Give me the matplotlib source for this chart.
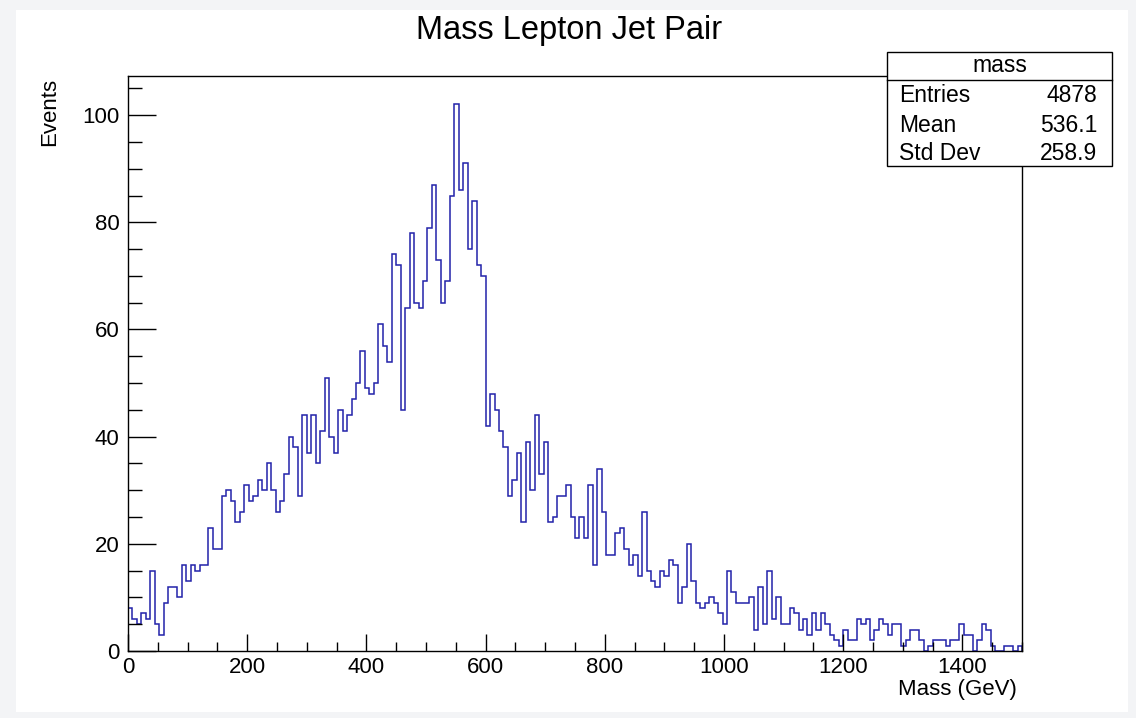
import numpy as np
import matplotlib
matplotlib.use('Agg')
import matplotlib.pyplot as plt
from matplotlib.patches import Rectangle
from matplotlib.ticker import MultipleLocator

plt.rcParams['font.family'] = ['Liberation Sans', 'DejaVu Sans']

# histogram: 200 bins, 0..1500 GeV
X_MIN, X_MAX, N_BINS = 0, 1500, 200
counts = [
    8, 6, 5, 7, 6, 15, 5, 3, 9, 12,
    12, 10, 16, 13, 16, 15, 16, 16, 23, 19,
    19, 29, 30, 28, 24, 26, 31, 28, 29, 32,
    30, 35, 30, 26, 28, 33, 40, 38, 29, 44,
    37, 44, 35, 41, 51, 40, 37, 45, 41, 44,
    47, 50, 56, 49, 48, 50, 61, 57, 54, 74,
    72, 45, 64, 78, 65, 64, 69, 79, 87, 73,
    65, 69, 85, 102, 86, 91, 75, 84, 72, 70,
    42, 48, 45, 41, 38, 29, 32, 37, 24, 39,
    30, 44, 33, 39, 24, 25, 29, 29, 31, 25,
    21, 25, 21, 31, 16, 34, 26, 18, 18, 22,
    23, 19, 16, 18, 14, 26, 15, 13, 12, 15,
    14, 17, 16, 9, 12, 20, 13, 9, 8, 9,
    10, 9, 7, 5, 15, 11, 9, 9, 9, 10,
    4, 12, 5, 15, 6, 10, 5, 5, 8, 7,
    4, 6, 3, 7, 4, 7, 5, 3, 2, 1,
    4, 2, 2, 6, 5, 6, 2, 4, 6, 5,
    3, 5, 5, 1, 2, 4, 4, 2, 0, 1,
    2, 2, 2, 1, 2, 2, 5, 3, 3, 0,
    2, 5, 4, 1, 0, 0, 1, 1, 0, 1,
]
stat_names = ['Entries', 'Mean', 'Std Dev']
stat_values = ['4878', '536.1', '258.9']
hist_name = 'mass'
title = 'Mass Lepton Jet Pair'
xlabel = 'Mass (GeV)'
ylabel = 'Events'

W, H = 1136, 718
LINE = '#2222aa'

fig = plt.figure(figsize=(W / 100, H / 100), dpi=100)
fig.patch.set_facecolor('#f3f4f6')
fig.add_artist(Rectangle((16 / W, 1 - 712 / H), (1128 - 16) / W, (712 - 10) / H,
                         transform=fig.transFigure, facecolor='white',
                         edgecolor='none', zorder=0))

ax = fig.add_axes([128 / W, 1 - 651 / H, (1022 - 128) / W, (651 - 76) / H])
ax.set_facecolor('white')
edges = np.linspace(X_MIN, X_MAX, N_BINS + 1)
ax.stairs(counts, edges, baseline=0, fill=False, color=LINE, lw=1.1)

ax.set_xlim(X_MIN, X_MAX)
ax.set_ylim(0, 107.3)
ax.xaxis.set_major_locator(MultipleLocator(200))
ax.xaxis.set_minor_locator(MultipleLocator(50))
ax.yaxis.set_major_locator(MultipleLocator(20))
ax.yaxis.set_minor_locator(MultipleLocator(5))
ax.tick_params(axis='both', which='both', direction='in', width=1, labelsize=16)
ax.tick_params(axis='y', which='major', length=20, pad=6)
ax.tick_params(axis='y', which='minor', length=10)
ax.tick_params(axis='x', which='major', length=12, pad=4)
ax.tick_params(axis='x', which='minor', length=6.5)
for s in ax.spines.values():
    s.set_linewidth(1)

fig.text(0.501, 1 - 31 / H, title, ha='center', va='center', fontsize=23.5)
fig.text(50 / W, 1 - 78 / H, ylabel, rotation=90, ha='center', va='top', fontsize=16)
fig.text(1017 / W, 1 - 690 / H, xlabel, ha='right', va='center', fontsize=16)

# stats box
bx0, bx1 = 887 / W, 1112 / W
by_top, by_bot, by_sep = 1 - 52 / H, 1 - 166 / H, 1 - 80 / H
fig.add_artist(Rectangle((bx0, by_bot), bx1 - bx0, by_top - by_bot,
                         transform=fig.transFigure, facecolor='white',
                         edgecolor='black', lw=1, zorder=5))
fig.add_artist(plt.Line2D([bx0, bx1], [by_sep, by_sep], transform=fig.transFigure,
                          color='black', lw=1, zorder=6))
fig.text((bx0 + bx1) / 2, 1 - 66 / H, hist_name, ha='center', va='center',
         fontsize=16.5, zorder=7)
for i, (n, v) in enumerate(zip(stat_names, stat_values)):
    yy = 1 - (96 + 29 * i) / H
    fig.text(899 / W, yy, n, ha='left', va='center', fontsize=16.5, zorder=7)
    fig.text(1097 / W, yy, v, ha='right', va='center', fontsize=16.5, zorder=7)

fig.savefig('out.png', dpi=100)
